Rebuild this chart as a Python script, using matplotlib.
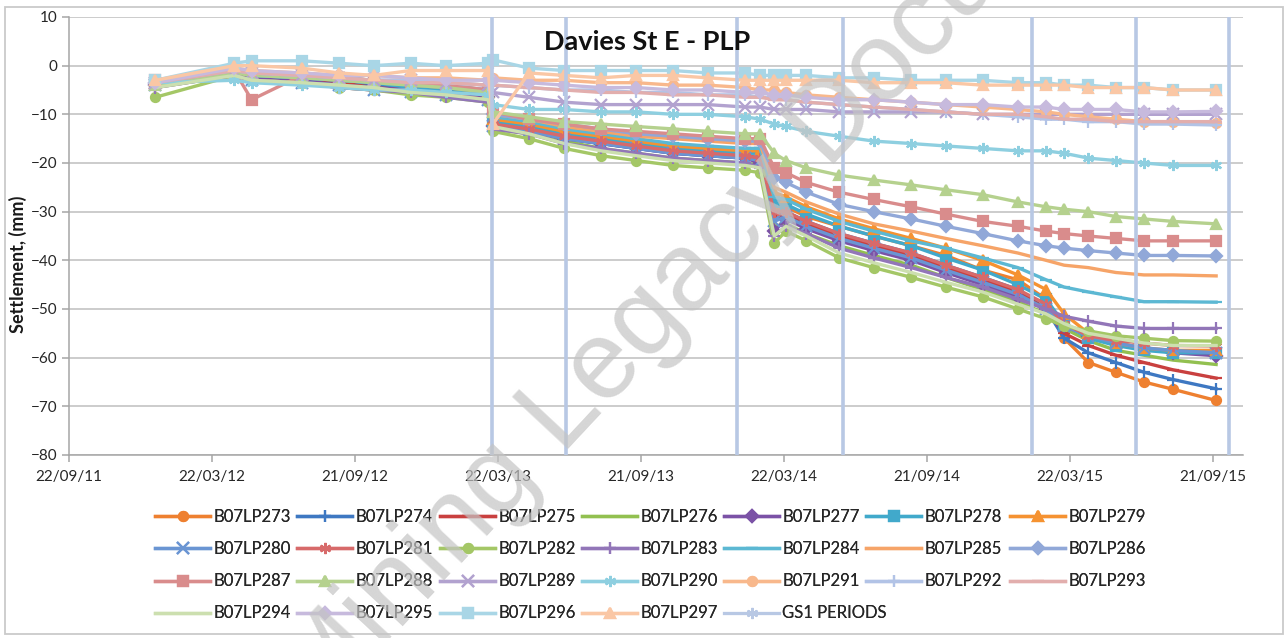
import numpy as np
import matplotlib.pyplot as plt
import matplotlib.dates as mdates
from matplotlib.lines import Line2D
from matplotlib.patches import Rectangle
from matplotlib.ticker import FixedLocator

plt.rcParams['font.family'] = ['Lato', 'DejaVu Sans']

# survey dates shared by all the PLP points
dates = np.array([
    '2012-01-10',
    '2012-04-20', '2012-05-12', '2012-07-15', '2012-09-01', '2012-10-15', '2012-12-01', '2013-01-15', '2013-03-10',
    '2013-03-16', '2013-05-01', '2013-06-15', '2013-08-01', '2013-09-15', '2013-11-01', '2013-12-15', '2014-02-01', '2014-02-20',
    '2014-03-10', '2014-03-25', '2014-04-20', '2014-06-01', '2014-07-15', '2014-09-01', '2014-10-15', '2014-12-01',
    '2015-01-15', '2015-02-20', '2015-03-15', '2015-04-15', '2015-05-20', '2015-06-25', '2015-08-01', '2015-09-25',
], dtype='datetime64[D]')

# settlement (mm)
b07lp273 = [-3.5, -1, -2, -2.5, -3, -3.5, -4.5, -5, -6, -12, -13, -14.5, -15.5, -16.5, -17.5, -18, -18.5, -19,
            -30, -29, -31, -33, -35, -37, -39, -42, -44, -48, -56, -61, -63, -65, -66.5, -68.8]
b07lp274 = [-4, -1.5, -2.5, -3, -3.5, -4, -5, -5.5, -6.5, -12.5, -13.5, -15, -16, -17, -18, -18.5, -19, -19.5,
            -31, -30, -32, -34.5, -36.5, -38.5, -41, -43.5, -46, -50, -56, -59, -61, -63, -64.5, -66.4]
b07lp275 = [-4, -1.5, -2.5, -3, -3.5, -4.5, -5, -5.5, -6.5, -12, -13, -14.5, -15.5, -16.5, -17.5, -18, -18.5, -19,
            -31, -30.5, -32.5, -35, -37, -39, -41.5, -44, -46.5, -50, -55, -57.5, -59.5, -61, -62.5, -64.2]
b07lp276 = [-4.5, -2, -3, -3.5, -4, -5, -5.5, -6, -7, -13, -14, -15.5, -17, -18, -19, -19.5, -20, -20.5,
            -33, -32.5, -34.5, -37, -39, -41, -43.5, -46, -48.5, -51, -54, -56.5, -58.5, -59.5, -60.5, -61.4]
b07lp277 = [-4, -1.5, -2.5, -3, -4, -4.5, -5, -5.5, -6.5, -12.5, -13.5, -15, -16, -17, -18, -18.5, -19, -20,
            -34, -31.5, -33.5, -36, -38, -40, -42.5, -45, -47.5, -50, -53.5, -55.5, -57, -58, -59, -59.6]
b07lp278 = [-3.5, -1, -2, -2.5, -3, -3.5, -4.5, -5, -6, -11.5, -12.5, -14, -15, -16, -17, -17.5, -18, -18,
            -28, -28.5, -30.5, -33, -35, -37, -39.5, -42, -45, -48, -53, -56, -57.5, -58.5, -59, -59]
b07lp279 = [-3.5, -1, -1.5, -2, -2.5, -3, -4, -4.5, -5.5, -11, -12, -13.5, -14.5, -15.5, -16.5, -17, -17.5, -17.5,
            -26, -27, -29, -31.5, -33.5, -35.5, -37.5, -40, -43, -46, -51, -55, -57, -58, -58.5, -58.5]
b07lp280 = [-4, -2, -3, -3.5, -4, -5, -5.5, -6, -7, -12.5, -13.5, -15, -16, -17, -18, -18.5, -19, -19.5,
            -32, -31, -33, -35.5, -37.5, -39.5, -42, -44.5, -47, -50, -53.5, -55.5, -57, -58, -58.5, -59]
b07lp281 = [-4, -2, -3, -3.5, -4.5, -5, -5.5, -6, -7, -12, -13, -14.5, -15.5, -16.5, -17.5, -18, -18.5, -19,
            -30, -30, -32, -34.5, -36.5, -38.5, -41, -43.5, -46, -49, -53, -55.5, -56.5, -57, -57.5, -57.6]
b07lp282 = [-6.5, -2, -3, -3.5, -4.5, -5, -6, -6.5, -7.5, -13.5, -15, -17, -18.5, -19.5, -20.5, -21, -21.5, -22,
            -36.5, -34, -36, -39.5, -41.5, -43.5, -45.5, -47.5, -50, -52, -53.5, -54.5, -55.5, -56, -56.5, -56.6]
b07lp283 = [-4.5, -2, -3, -3.5, -4.5, -5, -5.5, -6.5, -7.5, -13, -14, -16, -17, -18, -19, -19.5, -20, -21,
            -35, -33, -34.5, -37.5, -39.5, -41.5, -43.5, -45.5, -48, -50, -51.5, -52.5, -53.5, -54, -54, -54]
b07lp284 = [-3.5, -1, -2, -2.5, -3, -3.5, -4, -4.5, -5.5, -10.5, -11.5, -13, -14, -15, -16, -16.5, -17, -17,
            -27, -27.5, -29.5, -32, -34, -36, -37.5, -39.5, -41.5, -44, -45.5, -46.5, -47.5, -48.5, -48.5, -48.6]
b07lp285 = [-3.5, -1, -1.5, -2, -2.5, -3, -3.5, -4, -5, -10, -11, -12.5, -13.5, -14.5, -15, -15.5, -16, -16,
            -25, -26, -28, -30.5, -32.5, -34, -35.5, -37, -38.5, -40, -41, -41.5, -42.5, -43, -43, -43.2]
b07lp286 = [-3.5, -1, -1.5, -2, -2.5, -3, -3.5, -4, -5, -10, -11, -12, -13, -14, -14.5, -15, -15.5, -15.5,
            -23, -24, -26, -28.5, -30, -31.5, -33, -34.5, -36, -37, -37.5, -38, -38.5, -39, -39, -39.1]
b07lp287 = [-3, -1, -7, -2, -2.5, -3, -3.5, -4, -5, -9.5, -11, -12, -13, -13.5, -14, -14.5, -15, -15,
            -21, -22, -24, -26, -27.5, -29, -30.5, -32, -33, -34, -34.5, -35, -35.5, -36, -36, -36]
b07lp288 = [-4, -1.5, -2, -2.5, -3, -3.5, -4, -4.5, -5.5, -9.5, -10.5, -11.5, -12, -12.5, -13, -13.5, -14, -14,
            -18, -19.5, -21, -22.5, -23.5, -24.5, -25.5, -26.5, -28, -29, -29.5, -30, -31, -31.5, -32, -32.5]
b07lp289 = [-3.5, -1, -1.5, -2, -2.5, -3, -3, -3.5, -4, -5.5, -6.5, -7.5, -8, -8, -8, -8, -8.5, -8.5,
            -9, -9, -9, -9.5, -9.5, -9.5, -9.5, -10, -10, -10, -10, -10, -10, -10, -10, -10]
b07lp290 = [-3.5, -3, -3.5, -4, -4.5, -5, -5, -5.5, -6, -8, -9, -9, -9.5, -9.5, -10, -10, -10.5, -11,
            -12, -12.5, -13.5, -14.5, -15.5, -16, -16.5, -17, -17.5, -17.5, -18, -19, -19.5, -20, -20.5, -20.5]
b07lp291 = [-3, -0.5, -1, -1.5, -2, -2, -2.5, -2.5, -3, -2.5, -3, -3, -3.5, -3.5, -4, -4, -4.5, -5,
            -5, -5.5, -6, -6.5, -7, -7.5, -8, -8.5, -9, -9.5, -10, -10.5, -11, -11.5, -11.5, -11.7]
b07lp292 = [-3, -1, -1.5, -2, -2.5, -3, -3, -3.5, -4, -4, -4.5, -5, -5, -5.5, -5.5, -6, -6, -6.5,
            -6.5, -7, -7.5, -8, -8.5, -9, -9.5, -10, -10.5, -11, -11, -11.5, -11.5, -12, -12, -12.2]
b07lp293 = [-3.5, -1, -1.5, -2, -2.5, -3, -3.5, -3.5, -4, -4, -4.5, -5, -5.5, -5.5, -6, -6, -6.5, -6.5,
            -7, -7, -7.5, -8, -8.5, -9, -9.5, -10, -10, -10.5, -11, -11, -11.5, -11.5, -11.5, -11.5]
b07lp294 = [-4.5, -2, -3, -3.5, -4, -4.5, -5.5, -6, -7, -12.5, -14, -16, -17.5, -18.5, -19.5, -20, -20.5, -21,
            -35, -33, -35, -38.5, -40.5, -42.5, -44.5, -46.5, -49, -51, -53, -55, -56, -57, -57.5, -57.5]
b07lp295 = [-3.5, -0.5, -1, -1.5, -2, -2, -2.5, -3, -3, -3, -3.5, -4, -4.5, -4.5, -5, -5, -5.5, -5.5,
            -6, -6, -6.5, -7, -7, -7.5, -8, -8, -8.5, -8.5, -9, -9, -9, -9.5, -9.5, -9.4]
b07lp296 = [-3, 0.5, 1, 1, 0.5, 0, 0.5, 0, 0.5, 1.2, -0.5, -1, -1, -1, -1, -1.5, -1.5, -2,
            -2, -2, -2, -2.5, -2.5, -3, -3, -3, -3.5, -3.5, -4, -4, -4.5, -4.5, -5, -5]
b07lp297 = [-3, 0, 0, -0.5, -1.5, -2, -1, -1, -1, -12, -1.5, -2, -2.5, -2, -2, -2.5, -3, -3,
            -3, -3, -3, -3, -3.5, -3.5, -3.5, -4, -4, -4, -4, -4.5, -4.5, -4.5, -5, -5]

# GS1 periods
gs1_dates = np.array(['2013-03-15', '2013-06-17', '2014-01-21', '2014-06-06',
                      '2015-02-02', '2015-06-15', '2015-10-11'], dtype='datetime64[D]')

star = (6, 2, 0)
series = [
    ('B07LP273', b07lp273, '#EE8030', 'o'),
    ('B07LP274', b07lp274, '#3E78C2', '+'),
    ('B07LP275', b07lp275, '#C9403F', '_'),
    ('B07LP276', b07lp276, '#92C050', None),
    ('B07LP277', b07lp277, '#7B52A6', 'D'),
    ('B07LP278', b07lp278, '#41A9CB', 's'),
    ('B07LP279', b07lp279, '#F59231', '^'),
    ('B07LP280', b07lp280, '#6A95D3', 'x'),
    ('B07LP281', b07lp281, '#D76A6A', star),
    ('B07LP282', b07lp282, '#A4C766', 'o'),
    ('B07LP283', b07lp283, '#9276B8', '+'),
    ('B07LP284', b07lp284, '#5CB8D3', '_'),
    ('B07LP285', b07lp285, '#F6A468', None),
    ('B07LP286', b07lp286, '#91A8D8', 'D'),
    ('B07LP287', b07lp287, '#D98C8C', 's'),
    ('B07LP288', b07lp288, '#B5D18E', '^'),
    ('B07LP289', b07lp289, '#B2A2CF', 'x'),
    ('B07LP290', b07lp290, '#8ECFE0', star),
    ('B07LP291', b07lp291, '#F8B88C', 'o'),
    ('B07LP292', b07lp292, '#B2C3E6', '+'),
    ('B07LP293', b07lp293, '#E2AEAD', '_'),
    ('B07LP294', b07lp294, '#CCDFAF', None),
    ('B07LP295', b07lp295, '#C7BADD', 'D'),
    ('B07LP296', b07lp296, '#A9D6E6', 's'),
    ('B07LP297', b07lp297, '#FAC7A5', '^'),
]
gs1_color = '#B8C8E4'

W, H = 1288, 638
fig = plt.figure(figsize=(W / 100, H / 100), dpi=100)
ax = fig.add_axes([69 / W, 1 - 455 / H, (1243 - 69) / W, (455 - 17) / H])

handles = []
for name, vals, col, mk in series:
    ms = 8 if mk in ('+', 'x', '_', star) else 6.5
    ln, = ax.plot(dates, vals, color=col, lw=2.4, marker=mk, ms=ms, mew=1.6,
                  mfc=col, mec=col, label=name)
    handles.append(ln)

gx = mdates.date2num(gs1_dates)
ax.vlines(gx, -80, 10, colors=gs1_color, lw=2.6, zorder=5)
handles.append(Line2D([], [], color=gs1_color, lw=2.25, marker=star, ms=8, mew=1.4))

# axes
x0 = mdates.date2num(np.datetime64('2011-09-22'))
ax.set_xlim(x0, x0 + 1498.3)
ax.set_ylim(-80, 10)
ax.xaxis.set_major_locator(FixedLocator([x0 + 182.5 * k for k in range(9)]))
ax.xaxis.set_major_formatter(mdates.DateFormatter('%d/%m/%y'))
ax.set_yticks(range(-80, 11, 10))
ax.grid(axis='y', color='#BEBEBE', lw=1.1)
ax.set_axisbelow(True)
for s in ('top', 'right'):
    ax.spines[s].set_visible(False)
for s in ('left', 'bottom'):
    ax.spines[s].set_color('#A6A6A6')
    ax.spines[s].set_linewidth(1.1)
ax.tick_params(colors='#A6A6A6', labelcolor='#262626', labelsize=11, length=5, width=1.1)
ax.tick_params(axis='x', pad=6)

fig.text(18 / W, 1 - 264 / H, 'Settlement, (mm)', rotation=90, ha='center', va='center',
         fontsize=13, fontweight='bold', color='#1a1a1a')
fig.text(647 / W, 1 - 42 / H, 'Davies St E - PLP', ha='center', va='center',
         fontsize=19.5, fontweight='bold', color='#111111')

# legend laid out in seven fixed columns, filled row by row
labels = [s[0] for s in series] + ['GS1 PERIODS']
col_x = [155, 297, 440, 582, 724, 866, 1010]
for c, cx in enumerate(col_x):
    idx = list(range(c, len(labels), 7))
    lg = fig.legend([handles[i] for i in idx], [labels[i] for i in idx],
                    loc='upper left', bbox_to_anchor=(cx / W, 1 - 509 / H),
                    frameon=False, fontsize=12, borderpad=0, borderaxespad=0,
                    handlelength=3.3, handletextpad=0.2, labelspacing=0.97)
    for t in lg.get_texts():
        t.set_color('#262626')
    fig.add_artist(lg)

fig.text(744 / W, 1 - 218 / H, 'Mining Legacy Documents', rotation=47, rotation_mode='anchor',
         ha='center', va='center', fontsize=80, family='Liberation Sans',
         color='#C4C4C4', alpha=0.7, zorder=20)

fig.patches.append(Rectangle((5 / W, 4 / H), (W - 10) / W, (H - 11) / H, transform=fig.transFigure,
                             fill=False, ec='#CACACA', lw=1.3))

fig.savefig('out.png', dpi=100)
